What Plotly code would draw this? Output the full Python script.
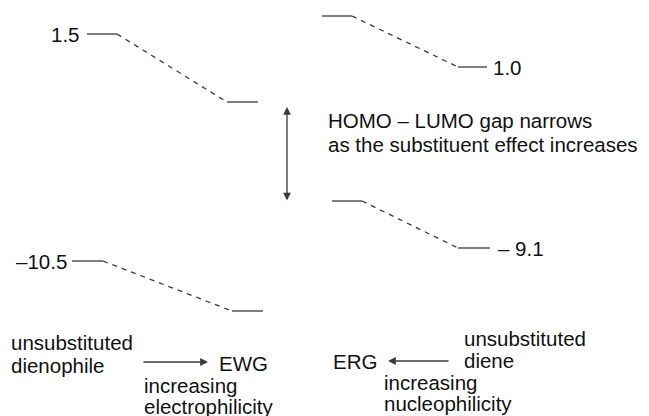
import plotly.graph_objects as go

# ---- data (diagram units: x across the page, y = schematic energy position, downwards) ----
# Orbital levels: [left solid start, left solid end, right solid start, right solid end]
level_names = ["dienophile LUMO", "dienophile HOMO", "diene LUMO", "diene HOMO"]
level_x = [
    [87, 117, 227, 258],
    [72, 103, 232, 263],
    [322, 352, 458, 487],
    [332, 362, 458, 490],
]
level_y_start = [34, 261, 16, 201]   # schematic level before/after substitution
level_y_end = [102, 311, 67, 248]

# energy labels (eV)
energy_values = ["1.5", "–10.5", "1.0", "– 9.1"]
energy_label_x = [82, 69, 491, 496]
energy_label_y = [34, 261, 67, 248]
energy_label_anchor = ["right", "right", "left", "left"]

gap_arrow_x = [287, 287]
gap_arrow_y = [107, 202]
gap_text = ["HOMO – LUMO gap narrows", "as the substituent effect increases"]
gap_text_x = [326, 326]
gap_text_y = [120, 144]

bottom_texts = ["unsubstituted", "dienophile", "EWG", "increasing", "electrophilicity",
                "ERG", "unsubstituted", "diene", "increasing", "nucleophilicity"]
bottom_x = [8.5, 8.5, 217, 142, 142, 379, 462, 462, 382, 382]
bottom_y = [342, 365, 363, 385, 406, 361, 338, 360, 382, 403]
bottom_anchor = ["left", "left", "left", "left", "left", "right", "left", "left", "left", "left"]

# reaction arrows: (tail x, head x, y)
react_arrows = [(142, 208, 362), (450, 388, 361)]

LINE = "#3a3a3a"
FONT = dict(family="Liberation Sans, Arial, Helvetica, sans-serif", size=20.5, color="#111111")

# the page body has an 8px margin; the plot covers page pixels 8..649 x 8..416
PAGE_OFFSET = 8
PAGE_W, PAGE_H = 649, 416

fig = go.Figure()
for xs, y0, y1 in zip(level_x, level_y_start, level_y_end):
    fig.add_trace(go.Scatter(x=[xs[0], xs[1]], y=[y0, y0], mode="lines",
                             line=dict(color=LINE, width=1.3), hoverinfo="skip"))
    fig.add_trace(go.Scatter(x=[xs[1], xs[2]], y=[y0, y1], mode="lines",
                             line=dict(color=LINE, width=1.3, dash="5px,5px"), hoverinfo="skip"))
    fig.add_trace(go.Scatter(x=[xs[2], xs[3]], y=[y1, y1], mode="lines",
                             line=dict(color=LINE, width=1.3), hoverinfo="skip"))

annotations = []
for t, x, y, a in zip(energy_values, energy_label_x, energy_label_y, energy_label_anchor):
    annotations.append(dict(x=x, y=y, text=t, xanchor=a, yanchor="middle",
                            showarrow=False, font=FONT))
for t, x, y in zip(gap_text, gap_text_x, gap_text_y):
    annotations.append(dict(x=x, y=y, text=t, xanchor="left", yanchor="middle",
                            showarrow=False, font=FONT))
for t, x, y, a in zip(bottom_texts, bottom_x, bottom_y, bottom_anchor):
    annotations.append(dict(x=x, y=y, text=t, xanchor=a, yanchor="middle",
                            showarrow=False, font=FONT))

# double-headed gap arrow
annotations.append(dict(x=gap_arrow_x[0], y=gap_arrow_y[0], ax=gap_arrow_x[1], ay=gap_arrow_y[1],
                        xref="x", yref="y", axref="x", ayref="y", text="", showarrow=True,
                        arrowhead=2, startarrowhead=2, arrowside="end+start", arrowsize=1.2,
                        arrowwidth=1.3, arrowcolor=LINE, standoff=0, startstandoff=0))
for tx, hx, y in react_arrows:
    annotations.append(dict(x=hx, y=y, ax=tx, ay=y, xref="x", yref="y", axref="x", ayref="y",
                            text="", showarrow=True, arrowhead=2, arrowsize=1.2,
                            arrowwidth=1.3, arrowcolor=LINE, standoff=0))

fig.update_layout(
    width=PAGE_W - PAGE_OFFSET, height=PAGE_H - PAGE_OFFSET, margin=dict(l=0, r=0, t=0, b=0),
    paper_bgcolor="white", plot_bgcolor="white", showlegend=False,
    xaxis=dict(range=[PAGE_OFFSET, PAGE_W], visible=False, fixedrange=True),
    yaxis=dict(range=[PAGE_H, PAGE_OFFSET], visible=False, fixedrange=True),
    annotations=annotations,
)
fig.write_html("out.html")
